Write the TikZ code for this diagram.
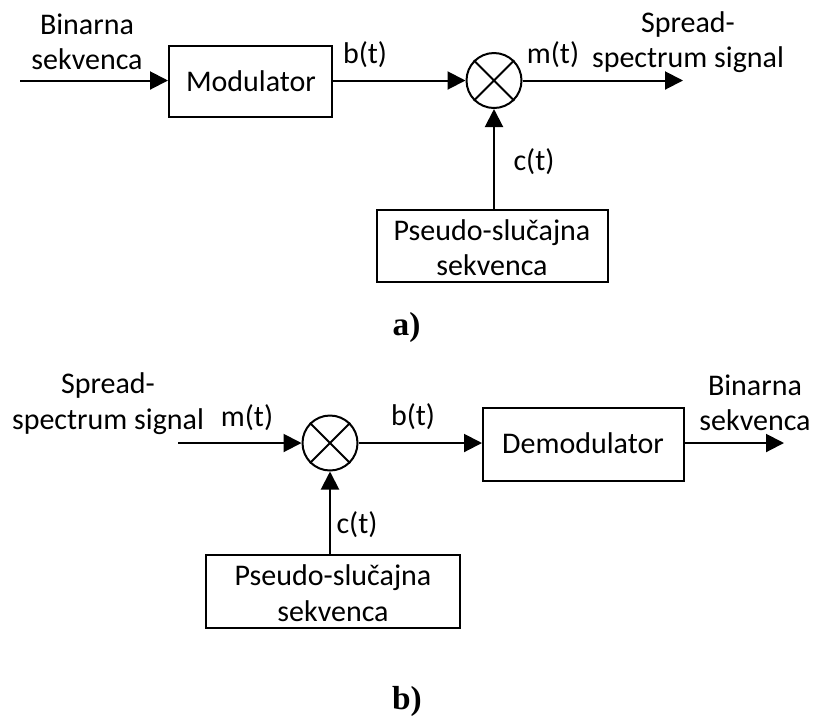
\documentclass[tikz,border=0pt]{standalone}
\usepackage{fontspec}
\setmainfont{Carlito}
\newfontfamily\capfont{Liberation Serif}
\usetikzlibrary{arrows.meta}
\newlength{\unit}\setlength{\unit}{0.75pt}
\tikzset{
 blockbox/.style={draw,line width=1.5pt,inner sep=0pt,align=center},
 mixer/.style={draw,line width=1.5pt,circle,minimum size=55\unit,inner sep=0pt},
 lab/.style={inner sep=0pt,align=center,font=\fontsize{22.5}{26.6}\selectfont},
 onelab/.style={lab,anchor=base},
 capt/.style={inner sep=0pt,anchor=base,font=\capfont\bfseries\fontsize{25}{29}\selectfont},
 sig/.style={line width=1.5pt,-{Triangle[length=13.5pt,width=13.5pt]}}
}
\begin{document}
\begin{tikzpicture}[x=0.75pt,y=-0.75pt]
\useasboundingbox (0,0) rectangle (813,719);
% a
\coordinate (inA) at (20,80.5);
\node[blockbox,minimum width=163\unit,minimum height=71\unit] (mod) at (250.5,81.5) {};
\node[onelab] (modt) at (251,91) {Modulator};
\node[mixer] (mxA) at (494,80.5) {};
\draw[line width=1.5pt] (mxA.45)--(mxA.225) (mxA.135)--(mxA.315);
\coordinate (outA) at (683,80.5);
\node[blockbox,minimum width=231\unit,minimum height=72\unit] (pnA) at (492.5,246) {};
\node[lab] (pnAt) at (492,247.5) {Pseudo-slučajna\\sekvenca};
\draw[sig] (inA)--(inA -| mod.west);
\draw[sig] (mxA -| mod.east)--(mxA.west);
\draw[sig] (mxA.east)--(outA);
\draw[sig] (mxA |- pnA.north)--(mxA.south);
\node[lab] (l1) at (87,42) {Binarna\\sekvenca};
\node[onelab] (l2) at (365,63) {b(t)};
\node[onelab] (l3) at (553,63) {m(t)};
\node[lab] (l4) at (688,42) {Spread-\\spectrum signal};
\node[onelab] (l5) at (534,170) {c(t)};
\node[capt] (c1) at (406.5,335) {a)};
% b
\coordinate (inB) at (178,443);
\node[mixer] (mxB) at (330,443) {};
\draw[line width=1.5pt] (mxB.45)--(mxB.225) (mxB.135)--(mxB.315);
\node[blockbox,minimum width=201\unit,minimum height=73\unit] (dem) at (583.5,444.5) {};
\node[onelab] (demt) at (583,453) {Demodulator};
\coordinate (outB) at (784,443);
\node[blockbox,minimum width=254\unit,minimum height=73\unit] (pnB) at (333,591.5) {};
\node[lab] (pnBt) at (333,593) {Pseudo-slučajna\\sekvenca};
\draw[sig] (inB)--(mxB.west);
\draw[sig] (mxB.east)--(mxB -| dem.west);
\draw[sig] (outB -| dem.east)--(outB);
\draw[sig] (mxB |- pnB.north)--(mxB.south);
\node[lab] (l6) at (108,403.5) {Spread-\\spectrum signal};
\node[onelab] (l7) at (247,426) {m(t)};
\node[onelab] (l8) at (413,425) {b(t)};
\node[lab] (l9) at (755,403) {Binarna\\sekvenca};
\node[onelab] (l10) at (357,533) {c(t)};
\node[capt] (c2) at (407,709) {b)};
\end{tikzpicture}
\end{document}
